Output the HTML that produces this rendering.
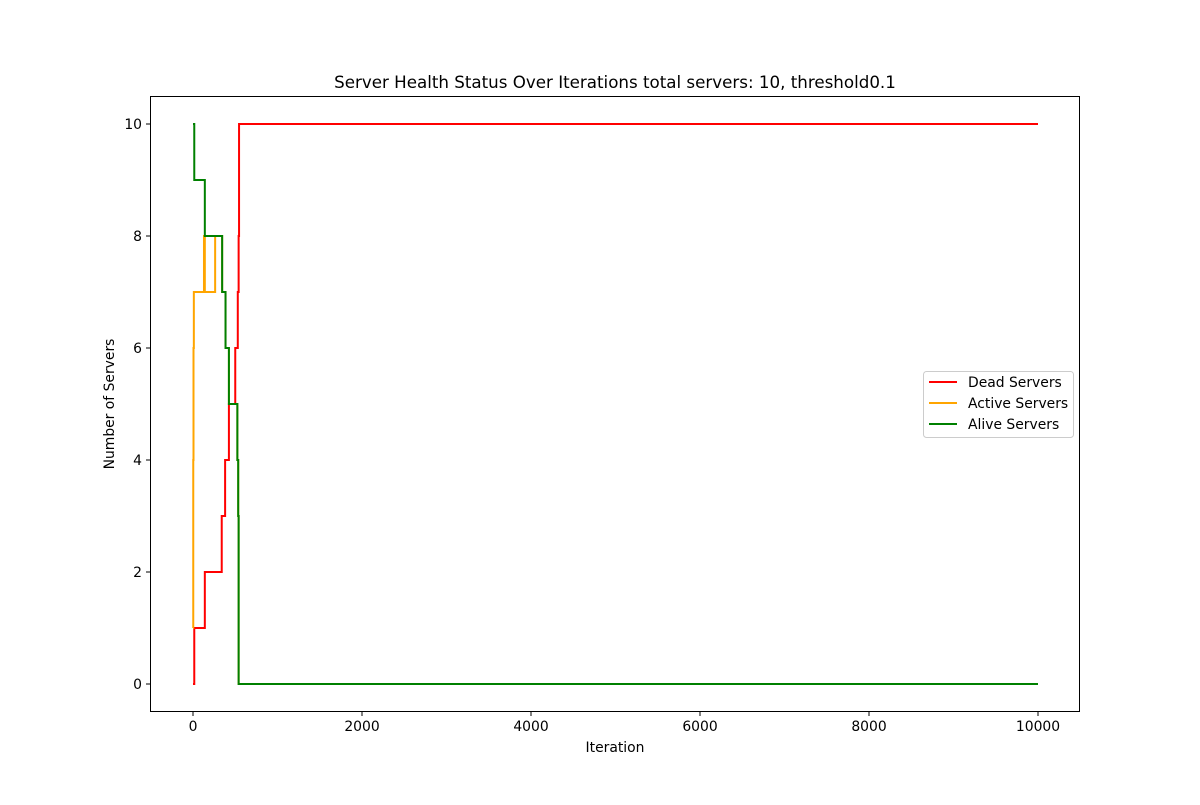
<!DOCTYPE html>
<html><head><meta charset="utf-8"><style>
body{margin:0;background:#fff;font-family:"Liberation Sans","DejaVu Sans",sans-serif}
svg text{font-family:"DejaVu Sans","Liberation Sans",sans-serif;font-size:13.9px;fill:#000}
</style></head><body>
<svg id="chart" width="1200" height="800">
<rect width="1200" height="800" fill="#fff"/>
<g id="plot"></g>
<rect x="150.5" y="96.5" width="929" height="615" fill="none" stroke="#000" stroke-width="1"/>
<g id="axes"></g>
<text x="615" y="88" text-anchor="middle" style="font-size:16.7px">Server Health Status Over Iterations total servers: 10, threshold0.1</text>
<text x="615" y="752" text-anchor="middle">Iteration</text>
<text x="114" y="404" text-anchor="middle" transform="rotate(-90 114 404)">Number of Servers</text>
<g>
<rect x="923.5" y="371.5" width="150" height="66" rx="3" fill="#fff" stroke="#ccc"/>
<line x1="929" y1="382" x2="957" y2="382" stroke="red" stroke-width="2"/>
<text x="968" y="387">Dead Servers</text>
<line x1="929" y1="403" x2="957" y2="403" stroke="orange" stroke-width="2"/>
<text x="968" y="408">Active Servers</text>
<line x1="929" y1="424" x2="957" y2="424" stroke="green" stroke-width="2"/>
<text x="968" y="429">Alive Servers</text>
</g>
</svg>
<script>
const deadIter=[0,15,140,340,380,425,500,530,540,545,10000];
const deadVal=[0,1,2,3,4,5,6,7,8,10,10];
const activeIter=[0,3,6,10,130,140,260,262,345,385,425,525,535,540,10000];
const activeVal=[1,4,6,7,8,7,7,8,7,6,5,4,3,0,0];
const aliveIter=[0,15,140,345,385,425,525,535,540,10000];
const aliveVal=[10,9,8,7,6,5,4,3,0,0];
const xTicks=[0,2000,4000,6000,8000,10000];
const yTicks=[0,2,4,6,8,10];
const X=v=>193+v*(1038-193)/10000;
const Y=v=>684-v*56;
const NS="http://www.w3.org/2000/svg";
const plot=document.getElementById('plot'),axes=document.getElementById('axes');
function series(it,vals,color,name){
  let d=`M${X(it[0])},${Y(vals[0])}`;
  for(let i=1;i<it.length;i++){d+=`H${X(it[i])}V${Y(vals[i])}`;}
  const p=document.createElementNS(NS,'path');
  p.setAttribute('d',d);p.setAttribute('fill','none');p.setAttribute('stroke',color);p.setAttribute('stroke-width','2');
  
  
  plot.appendChild(p);
}
series(deadIter,deadVal,'red','dead-servers-line');
series(activeIter,activeVal,'orange','active-servers-line');
series(aliveIter,aliveVal,'green','alive-servers-line');
xTicks.forEach(t=>{
  const l=document.createElementNS(NS,'line');
  l.setAttribute('x1',X(t));l.setAttribute('x2',X(t));l.setAttribute('y1',712);l.setAttribute('y2',716);l.setAttribute('stroke','#000');
  
  
  axes.appendChild(l);
  const tx=document.createElementNS(NS,'text');
  tx.setAttribute('x',X(t));tx.setAttribute('y',731);tx.setAttribute('text-anchor','middle');tx.textContent=t;
  
  
  axes.appendChild(tx);
});
yTicks.forEach(t=>{
  const l=document.createElementNS(NS,'line');
  l.setAttribute('x1',146);l.setAttribute('x2',150);l.setAttribute('y1',Y(t));l.setAttribute('y2',Y(t));l.setAttribute('stroke','#000');
  
  
  axes.appendChild(l);
  const tx=document.createElementNS(NS,'text');
  tx.setAttribute('x',142);tx.setAttribute('y',Y(t)+5);tx.setAttribute('text-anchor','end');tx.textContent=t;
  
  
  axes.appendChild(tx);
});
</script>
</body></html>
